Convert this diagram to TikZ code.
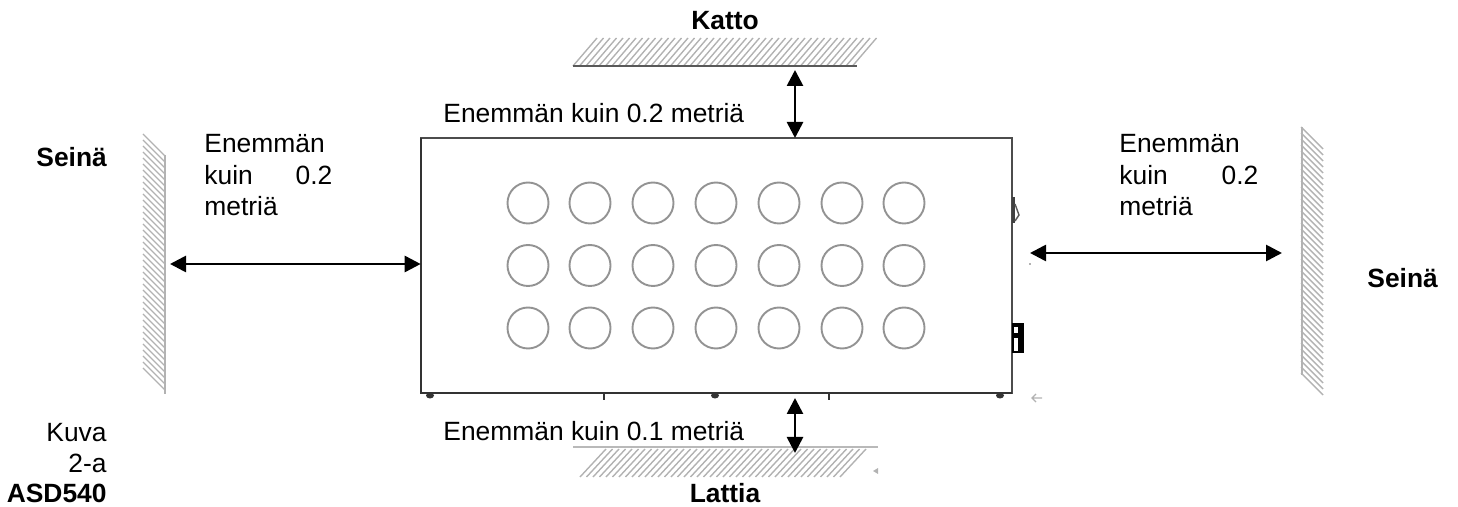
\documentclass[tikz,border=0pt]{standalone}
\usepackage{fontspec}
\setmainfont{Liberation Sans}
\usetikzlibrary{arrows.meta}
\tikzset{
  teksti/.style={inner sep=0pt,font=\fontsize{13.2}{16}\selectfont},
  otsikko/.style={teksti,font=\fontsize{13.2}{16}\selectfont\bfseries},
  nuoli/.style={{Triangle[length=8pt,width=8pt]}-{Triangle[length=8pt,width=8pt]},line width=1.35pt},
  viiva/.style={gray!60,line width=.7pt},
  reika/.style={circle,draw=gray!85,line width=.95pt,minimum size=20.5pt,inner sep=0pt,outer sep=0pt}
}
\newcommand{\vali}[2]{\makebox[64pt][l]{#1\hfill #2}}
\begin{document}
\begin{tikzpicture}[x=.5pt,y=-.5pt]
  \useasboundingbox (0,0) rectangle (1458,507);
  % katto ja lattia
  \foreach \hx in {573,579.5,...,857} \draw[viiva] (\hx,66) -- ++(24,-28);
  \draw[gray!70!black,line width=.8pt] (573,66) -- (857,66);
  \foreach \hx in {580,586.5,...,846} \draw[viiva] (\hx,477) -- ++(26,-28);
  \draw[gray!55,line width=1.1pt] (573,447) -- (878,447);
  % seinat
  \foreach \hy in {134,140,...,372} \draw[viiva] (143,\hy) -- ++(22,22);
  \draw[gray!60,line width=.6pt] (165,155) -- (165,394);
  \foreach \hy in {127,133,...,373} \draw[viiva] (1301,\hy) -- ++(22,22);
  \draw[gray!60,line width=.6pt] (1302,127) -- (1302,375);
  % kotelo
  \node[draw=gray!60!black,line width=.8pt,minimum width=295.5pt,minimum height=127.5pt,inner sep=0pt,outer sep=0pt] (kotelo) at (716.2,265.5) {};
  \draw[line width=.9pt,black!80] (kotelo.north west) -- (kotelo.south west) -- (kotelo.south east);
  \foreach \rx [count=\i] in {528,590,653,716,779,842,904}
    \foreach \ry [count=\j] in {203,265.5,328}
      \node[reika] (r\i\j) at (\rx,\ry) {};
  \foreach \jx in {430,715,1000} \fill[black!80] (\jx,395.5) ellipse (4 and 3);
  \foreach \jx in {604,829} \draw[black!80,line width=.8pt] (\jx,393) -- (\jx,400);
  \fill[black!75] (1012,197) rectangle (1015,223);
  \draw[gray!70!black,line width=.7pt] (1015,204) -- (1019,215) -- (1015,221);
  \fill[black] (1012,323) rectangle (1024,353);
  \fill[white] (1014,327) rectangle (1018,333);
  \fill[white] (1014,338) rectangle (1018,351);
  \fill[gray!60] (1029,263) rectangle (1031,265);
  \draw[gray!60,line width=.6pt] (1042,398) -- (1032,398) (1036,394) -- (1032,398) -- (1036,402);
  \fill[gray!60] (873,471) -- (878,468) -- (878,474) -- cycle;
  % nuolet
  \coordinate (vasen) at (170,264);
  \draw[nuoli] (vasen) -- (kotelo.west |- vasen);
  \coordinate (oikea1) at (1030,253);
  \coordinate (oikea2) at (1282,253);
  \draw[nuoli] (oikea1) -- (oikea2);
  \coordinate (ylos) at (795,70);
  \draw[nuoli] (ylos) -- (kotelo.north -| ylos);
  \coordinate (alas1) at (795,398);
  \coordinate (alas2) at (795,453);
  \draw[nuoli] (alas1) -- (alas2);
  % tekstit
  \node[otsikko,anchor=base] (katto) at (725,30) {Katto};
  \node[otsikko,anchor=base] (lattia) at (725,503) {Lattia};
  \node[otsikko,anchor=base west] (seina1) at (36,167) {Seinä};
  \node[otsikko,anchor=base west] (seina2) at (1367,288) {Seinä};
  \node[teksti,anchor=base west] (yla) at (443,123) {Enemmän kuin 0.2 metriä};
  \node[teksti,anchor=base west] (ala) at (443,441) {Enemmän kuin 0.1 metriä};
  \node[teksti,anchor=north west,align=left] (teksti1) at (204,134) {Enemmän\\\vali{kuin}{0.2}\\[-.5pt]metriä};
  \node[teksti,anchor=north west,align=left] (teksti2) at (1119,134) {Enemmän\\\makebox[69.5pt][l]{kuin\hfill 0.2}\\[-.5pt]metriä};
  \node[teksti,anchor=north east,align=right] (kuva) at (107,423) {Kuva\\[-.5pt]2-a\\[-1pt]\textbf{ASD540}};
\end{tikzpicture}
\end{document}
